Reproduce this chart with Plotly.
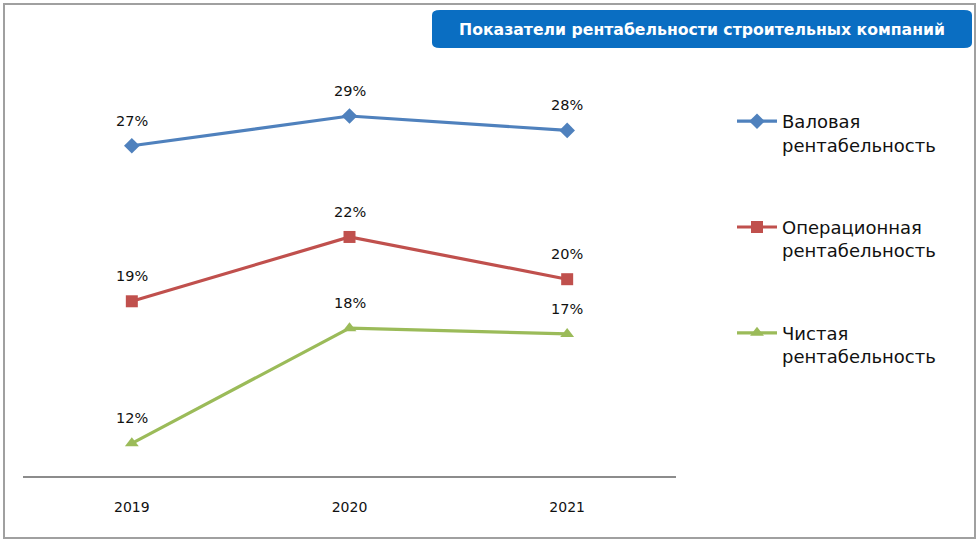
import plotly.graph_objects as go

years = ["2019", "2020", "2021"]
gross = [27.2, 28.75, 28.0]
operating = [19.1, 22.45, 20.25]
net = [11.7, 17.7, 17.4]
names = ["Валовая<br>рентабельность", "Операционная<br>рентабельность", "Чистая<br>рентабельность"]
colors = ["#4F81BD", "#C0504D", "#9BBB59"]
symbols = ["diamond", "square", "triangle-up"]
title_text = "Показатели рентабельности строительных компаний"

W, H = 979, 543
FONT = "DejaVu Sans"

fig = go.Figure()
for i, vals in enumerate([gross, operating, net]):
    fig.add_trace(go.Scatter(
        x=years, y=vals, name=names[i], mode="lines+markers",
        line=dict(color=colors[i], width=3.2),
        marker=dict(symbol=symbols[i], size=12, color=colors[i]),
        legendgroup=f"g{i}", cliponaxis=False,
    ))
    for idx, v in enumerate(vals):
        # category axes place annotations by category index
        fig.add_annotation(
            x=idx, y=v, text=f"{v:.0f}%", showarrow=False, yshift=25,
            font=dict(family=FONT, size=14.5, color="#111111"),
            xanchor="center", yanchor="middle",
        )

L, R, T, B = 23, 676, 92, 476
pw = R - L
ph = B - T


def px(x):
    return (x - L) / pw


def py(y):
    return (B - y) / ph


fig.update_layout(
    width=W, height=H,
    margin=dict(l=L, r=W - R, t=T, b=H - B, autoexpand=False),
    paper_bgcolor="white", plot_bgcolor="white",
    font=dict(family=FONT),
    showlegend=True,
    legend=dict(
        x=px(732), xanchor="left", y=py(103), yanchor="top",
        xref="paper", yref="paper",
        font=dict(family=FONT, size=18, color="#111111"),
        valign="top", tracegroupgap=56, itemwidth=40,
        bgcolor="rgba(0,0,0,0)",
    ),
    xaxis=dict(
        type="category", range=[-0.5, 2.5], showgrid=False,
        showline=True, linecolor="#8c8c8c", linewidth=2,
        ticks="", tickfont=dict(family=FONT, size=14, color="#111111"),
        ticklabelstandoff=17,
    ),
    yaxis=dict(range=[10, 30], visible=False, showgrid=False),
    shapes=[
        dict(type="rect", xref="paper", yref="paper",
             x0=px(4), x1=px(975), y0=py(538), y1=py(4),
             line=dict(color="#a0a0a0", width=2)),
        dict(type="path", xref="paper", yref="paper",
             path=(f"M {px(440)},{py(10)} L {px(964)},{py(10)} Q {px(972)},{py(10)} {px(972)},{py(15)} "
                   f"L {px(972)},{py(43)} Q {px(972)},{py(48)} {px(964)},{py(48)} "
                   f"L {px(440)},{py(48)} Q {px(432)},{py(48)} {px(432)},{py(43)} "
                   f"L {px(432)},{py(15)} Q {px(432)},{py(10)} {px(440)},{py(10)} Z"),
             fillcolor="#0A6EC2", line=dict(width=0)),
    ],
)

fig.add_annotation(
    xref="paper", yref="paper", x=px(702), y=py(29), text=f"<b>{title_text}</b>",
    showarrow=False, font=dict(family=FONT, size=15.7, color="white"),
    xanchor="center", yanchor="middle",
)

fig.write_html("out.html", config={"displayModeBar": False},
               post_script="document.body.style.margin='0';")
